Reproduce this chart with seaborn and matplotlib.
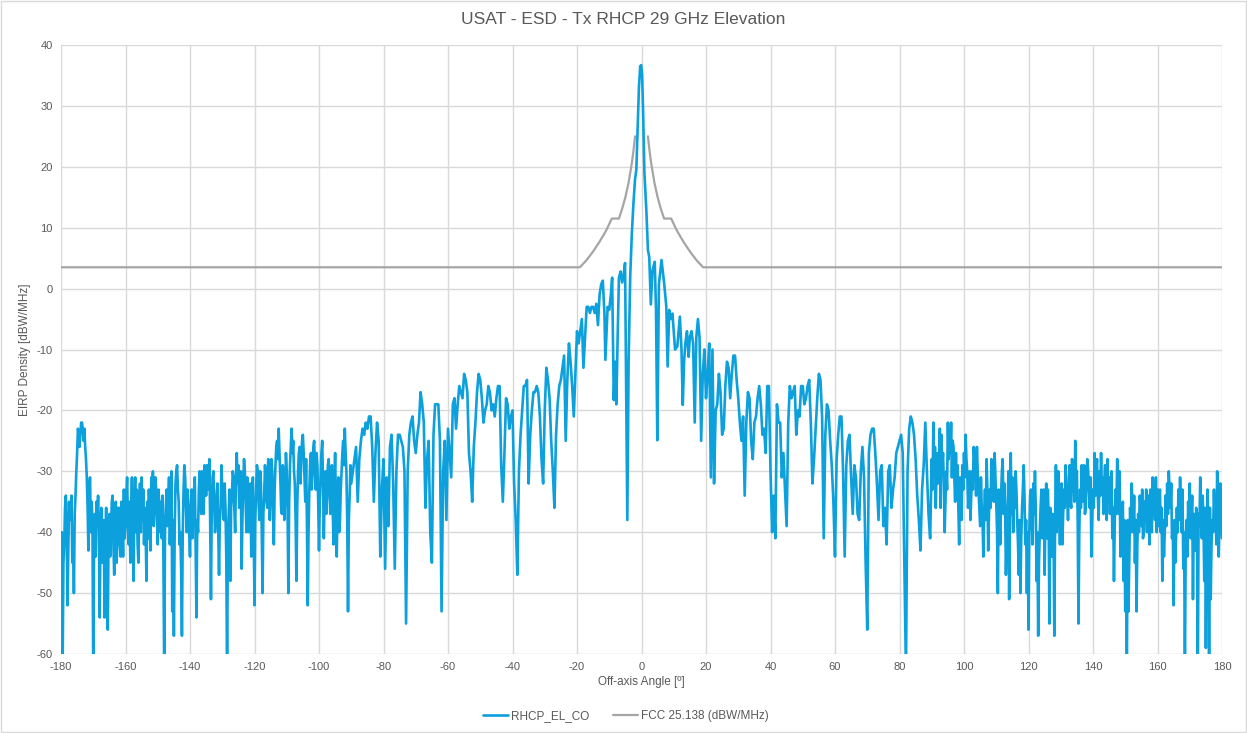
import numpy as np
import pandas as pd
import matplotlib
matplotlib.use("Agg")
import matplotlib.pyplot as plt
import seaborn as sns

# --- data ---
# left side lobes, -180 .. -15.5 deg, 0.5 deg step
left_start, left_stop = -180.0, -15.5
left_db = [
    -42, -63, -42, -34, -52, -35, -37, -45, -50, -34,   # -180
    -27, -24, -24, -22, -25, -26, -31, -43, -31, -35,   # -175
    -63, -37, -35, -34, -54, -36, -42, -54, -36, -56,   # -170
    -37, -40, -34, -47, -35, -41, -36, -44, -38, -33,   # -165
    -39, -31, -42, -45, -31, -48, -31, -33, -45, -32,   # -160
    -31, -33, -36, -48, -41, -38, -31, -30, -35, -33,   # -155
    -42, -36, -35, -34, -63, -36, -39, -31, -36, -53,   # -150
    -57, -32, -29, -35, -40, -57, -33, -31, -40, -36,   # -145
    -44, -33, -36, -31, -54, -40, -30, -37, -32, -29,   # -140
    -34, -30, -28, -51, -31, -35, -38, -32, -47, -36,   # -135
    -33, -38, -36, -63, -37, -48, -34, -31, -40, -27,   # -130
    -29, -34, -46, -32, -30, -40, -33, -36, -44, -31,   # -125
    -52, -33, -30, -38, -32, -50, -34, -31, -36, -29,   # -120
    -33, -30, -42, -29, -25, -23, -31, -37, -30, -34,   # -115
    -30, -50, -29, -23, -25, -32, -48, -30, -26, -28,   # -110
    -24, -31, -28, -52, -33, -27, -30, -25, -33, -29,   # -105
    -43, -31, -25, -41, -30, -34, -28, -37, -29, -42,   # -100
    -27, -44, -31, -38, -30, -25, -23, -30, -53, -34,   # -95
    -32, -30, -28, -26, -35, -28, -25, -23, -24, -22,   # -90
    -23, -21, -21, -26, -35, -27, -22, -25, -44, -33,   # -85
    -28, -46, -31, -39, -26, -24, -32, -46, -30, -24,   # -80
    -24, -25, -26, -30, -55, -30, -24, -22, -21, -25,   # -75
    -27, -24, -22, -17, -19, -22, -36, -28, -25, -40,   # -70
    -45, -24, -19, -19, -19, -25, -53, -30, -25, -38,   # -65
    -23, -27, -31, -19, -18, -23, -19, -16, -17, -18,   # -60
    -14, -15, -17, -27, -30, -35, -26, -22, -17, -14,   # -55
    -15, -18, -22, -20, -19, -16, -17, -20, -19, -21,   # -50
    -18, -16, -16, -29, -35, -27, -18, -19, -23, -21,   # -45
    -20, -32, -38, -47, -30, -24, -20, -16, -16, -15,   # -40
    -32, -24, -20, -17, -17, -16, -17, -21, -28, -32,   # -35
    -20, -13, -15, -18, -25, -30, -36, -24, -19, -16,   # -30
    -15, -13, -11, -25, -15, -9, -12, -16, -21, -14,    # -25
    -7, -9, -7, -5, -13, -8, -3, -3, -4, -3,            # -20
]
# extra samples in the dense far lobes, -179.75 .. -90.25 deg
left_mid_start, left_mid_stop = -179.75, -90.25
left_mid_db = [
    -40, -45, -36, -40, -44, -38, -34, -40, -37, -30,   # -179.75
    -23, -26, -22, -23, -23, -28, -36, -33, -40, -38,   # -174.75
    -42, -44, -38, -40, -40, -45, -38, -41, -43, -40,   # -169.75
    -44, -35, -42, -37, -45, -36, -42, -35, -44, -41,   # -164.75
    -34, -38, -35, -36, -40, -35, -40, -42, -36, -40,   # -159.75
    -38, -42, -40, -35, -33, -43, -36, -39, -31, -38,   # -154.75
    -33, -40, -41, -44, -40, -33, -35, -42, -30, -38,   # -149.75
    -40, -30, -33, -42, -46, -40, -29, -36, -33, -40,   # -144.75
    -36, -41, -33, -42, -38, -33, -34, -30, -37, -31,   # -139.75
    -29, -33, -38, -36, -30, -40, -34, -40, -38, -29,   # -134.75
    -35, -32, -44, -40, -33, -36, -30, -36, -31, -32,   # -129.75
    -36, -30, -38, -28, -35, -31, -40, -32, -34, -40,   # -124.75
    -38, -29, -35, -30, -40, -37, -29, -35, -28, -38,   # -119.75
    -28, -37, -33, -26, -28, -27, -36, -29, -38, -27,   # -114.75
    -36, -35, -26, -27, -30, -38, -36, -27, -32, -25,   # -109.75
    -27, -35, -38, -40, -29, -33, -26, -30, -27, -35,   # -104.75
    -35, -27, -32, -33, -37, -29, -33, -31, -36, -32,   # -99.75
    -36, -35, -40, -33, -27, -29, -27, -38, -38, -29,   # -94.75
]

# main lobe region, irregular sampling
center_angle = [-15, -14.5, -14, -13.5, -13, -12.5, -12, -11.5, -11.2, -10.5,
                -10, -9.5, -9.1, -8.6, -8.2, -7.8, -7.4, -7, -6.5, -6,
                -5.5, -5.1, -4.4, -4.0, -3.5, -3.0, -2.5, -2.0, -1.6, -1.2,
                -0.8, -0.4, -0.1, 0.2, 0.5, 0.9, 1.5, 2.0, 2.4, 2.9,
                3.4, 4.1, 4.5, 4.9, 5.4, 6.2, 7.0, 7.7, 8.1, 8.6,
                9.1, 9.6, 10.4, 11.1, 11.9, 12.4, 12.8, 13.2, 13.6, 14.1,
                14.6, 15.0]
center_db = [-3, -4, -2.5, -6, -1, 0.7, 1.3, -4, -11.7, -3,
             -3.5, -1, 1.8, -18.3, -12, -19, -8, 1.8, 2.8, 1,
             2.5, 4.2, -38, -12, 2, 9, 14, 18, 19.5, 26,
             33, 36.5, 36.7, 35, 29, 19, 12.9, 6.3, 5.2, -2.6,
             3, 4.4, -3.5, -24.9, 0.7, 4.7, 1, -3, -12.8, -3.5,
             -5, -4.1, -10, -9.5, -4.6, -10, -19.1, -12, -9, -7,
             -11.2, -8]

# right side lobes, 15.5 .. 180 deg, 0.5 deg step
right_start, right_stop = 15.5, 180.0
right_db = [
    -7, -9, -22, -8, -5, -8, -25, -14, -10, -18,         # 15.5
    -14, -9, -31, -10, -32, -20, -19, -14, -17, -24,     # 20.5
    -23, -16, -12, -13, -18, -14, -11, -11, -15, -18,    # 25.5
    -22, -25, -21, -34, -22, -17, -18, -25, -28, -22,    # 30.5
    -21, -18, -16, -19, -24, -23, -27, -16, -16, -30,    # 35.5
    -40, -34, -41, -19, -22, -22, -31, -27, -33, -39,    # 40.5
    -22, -16, -18, -17, -16, -24, -20, -21, -16, -16,    # 45.5
    -19, -18, -16, -15, -22, -32, -28, -23, -18, -14,    # 50.5
    -15, -21, -41, -24, -19, -20, -25, -29, -35, -44,    # 55.5
    -28, -24, -21, -21, -30, -44, -29, -25, -24, -31,    # 60.5
    -37, -29, -31, -37, -38, -30, -26, -31, -45, -56,    # 65.5
    -27, -24, -23, -23, -27, -32, -38, -30, -29, -39,    # 70.5
    -36, -42, -30, -29, -36, -33, -31, -27, -26, -25,    # 75.5
    -24, -27, -45, -63, -30, -23, -21, -22, -24, -28,    # 80.5
    -34, -38, -43, -33, -29, -22, -30, -37, -41, -28,    # 85.5
    -22, -26, -29, -32, -23, -24, -27, -40, -30, -22,    # 90.5
    -23, -22, -25, -31, -27, -29, -42, -35, -29, -27,    # 95.5
    -24, -30, -34, -38, -30, -26, -29, -26, -33, -39,    # 100.5
    -36, -44, -33, -28, -43, -33, -28, -31, -27, -35,    # 105.5
    -50, -38, -34, -28, -32, -47, -38, -51, -27, -31,    # 110.5
    -35, -30, -38, -47, -50, -36, -29, -42, -50, -56,    # 115.5
    -34, -38, -32, -30, -48, -57, -40, -33, -38, -47,    # 120.5
    -32, -33, -55, -41, -37, -57, -29, -33, -37, -36,    # 125.5
    -42, -33, -29, -33, -31, -35, -28, -31, -25, -30,    # 130.5
    -55, -33, -29, -31, -37, -32, -30, -36, -44, -33,    # 135.5
    -27, -30, -34, -30, -27, -31, -32, -36, -28, -31,    # 140.5
    -33, -41, -48, -33, -28, -37, -44, -42, -48, -53,    # 145.5
    -63, -53, -36, -32, -40, -45, -53, -37, -34, -39,    # 150.5
    -41, -35, -33, -35, -42, -37, -31, -34, -31, -33,    # 155.5
    -36, -40, -48, -44, -34, -32, -30, -36, -41, -52,    # 160.5
    -45, -36, -33, -31, -40, -46, -63, -38, -35, -32,    # 165.5
    -38, -51, -40, -36, -63, -39, -36, -34, -48, -59,    # 170.5
    -33, -63, -51, -38, -33, -36, -30, -44, -32, -41,    # 175.5
]
# extra samples in the dense far lobes, 90.25 .. 179.75 deg
right_mid_start, right_mid_stop = 90.25, 179.75
right_mid_db = [
    -33, -30, -36, -27, -30, -36, -29, -32, -35, -33,   # 90.25
    -28, -27, -31, -26, -35, -33, -36, -31, -38, -33,   # 95.25
    -31, -28, -36, -30, -34, -33, -28, -34, -30, -36,   # 100.25
    -31, -38, -37, -38, -33, -37, -36, -30, -35, -31,   # 105.25
    -40, -33, -42, -30, -37, -36, -41, -30, -38, -37,   # 110.25
    -40, -36, -33, -42, -38, -41, -33, -34, -38, -40,   # 115.25
    -40, -33, -42, -37, -36, -40, -45, -36, -41, -33,   # 120.25
    -37, -41, -38, -36, -44, -39, -38, -40, -30, -42,   # 125.25
    -32, -37, -36, -35, -38, -29, -36, -30, -35, -31,   # 130.25
    -38, -40, -36, -35, -29, -36, -28, -33, -31, -38,   # 135.25
    -36, -34, -28, -38, -34, -33, -37, -29, -38, -35,   # 140.25
    -37, -30, -36, -38, -37, -32, -30, -36, -35, -38,   # 145.25
    -42, -38, -44, -40, -36, -34, -38, -42, -40, -36,   # 150.25
    -33, -40, -38, -40, -34, -33, -40, -37, -38, -40,   # 155.25
    -39, -33, -36, -38, -40, -39, -37, -33, -32, -39,   # 160.25
    -38, -41, -40, -38, -36, -33, -40, -42, -44, -40,   # 165.25
    -41, -34, -37, -43, -42, -37, -31, -41, -38, -36,   # 170.25
    -40, -38, -36, -42, -40, -38, -42, -36, -37, -36,   # 175.25
]

# FCC 25.138 mask, two branches (no line between -2 and +2 deg)
mask_left_angle = [-180, -19.1, -17, -15, -13, -11, -9.2, -7, -6, -5, -4, -3, -2.5, -2]
mask_left_db = [3.5, 3.5, 4.7, 6.1, 7.7, 9.5, 11.5, 11.5, 13.1, 15.0, 17.4, 20.6, 22.6, 25.0]
mask_right_angle = [2, 2.5, 3, 4, 5, 6, 7, 9.2, 11, 13, 15, 17, 19.1, 180]
mask_right_db = [25.0, 22.6, 20.6, 17.4, 15.0, 13.1, 11.5, 11.5, 9.5, 7.7, 6.1, 4.7, 3.5, 3.5]

# --- tables ---
def grid(a, b, step):
    return np.arange(a, b + step / 10, step)

rhcp = pd.DataFrame({
    "angle": np.concatenate([grid(left_start, left_stop, 0.5),
                             grid(left_mid_start, left_mid_stop, 0.5),
                             center_angle,
                             grid(right_start, right_stop, 0.5),
                             grid(right_mid_start, right_mid_stop, 0.5)]),
    "eirp": np.concatenate([left_db, left_mid_db, center_db, right_db, right_mid_db]),
}).sort_values("angle")
mask_l = pd.DataFrame({"angle": mask_left_angle, "eirp": mask_left_db})
mask_r = pd.DataFrame({"angle": mask_right_angle, "eirp": mask_right_db})

# --- plot ---
sns.set_theme(style="whitegrid")
plt.rcParams["font.family"] = ["Liberation Sans", "DejaVu Sans"]
plt.rcParams["axes.unicode_minus"] = False

blue = "#0ca0dd"
grey = "#a5a5a5"
txt = "#595959"

fig = plt.figure(figsize=(12.47, 7.33), dpi=100)
ax = fig.add_axes([61 / 1247, 1 - 654 / 733, (1222 - 61) / 1247, (654 - 45) / 733])

sns.lineplot(data=mask_l, x="angle", y="eirp", color=grey, lw=1.6,
             estimator=None, sort=False, ax=ax, label="FCC 25.138 (dBW/MHz)")
sns.lineplot(data=mask_r, x="angle", y="eirp", color=grey, lw=1.6,
             estimator=None, sort=False, ax=ax)
sns.lineplot(data=rhcp, x="angle", y="eirp", color=blue, lw=1.9,
             estimator=None, sort=False, ax=ax, label="RHCP_EL_CO")

ax.set_xlim(-180, 180)
ax.set_ylim(-60, 40)
ax.set_xticks(np.arange(-180, 181, 20))
ax.set_yticks(np.arange(-60, 41, 10))
ax.grid(True, color="#d9d9d9", lw=1)
for s in ax.spines.values():
    s.set_visible(False)
ax.tick_params(axis="both", labelsize=8, colors=txt, length=0, pad=6)

# title is centred on the whole chart area, not on the plot box
fig.text(0.5, 1 - 19 / 733, "USAT - ESD - Tx RHCP 29 GHz Elevation",
         ha="center", va="center", fontsize=12.5, color=txt)
ax.set_xlabel("Off-axis Angle [º]", fontsize=8.5, color=txt, labelpad=3)
ax.set_ylabel("EIRP Density [dBW/MHz]", fontsize=8.5, color=txt, labelpad=4)

handles, labels = ax.get_legend_handles_labels()
ax.legend().remove()
order = [labels.index("RHCP_EL_CO"), labels.index("FCC 25.138 (dBW/MHz)")]
leg = fig.legend([handles[i] for i in order], [labels[i] for i in order],
                 loc="center", bbox_to_anchor=(0.502, 1 - 716 / 733), ncol=2,
                 frameon=False, fontsize=8.5, handlelength=2.1, handletextpad=0.3,
                 columnspacing=2.0)
for t in leg.get_texts():
    t.set_color(txt)

# thin chart-area border like the office chart
fig.patches.append(plt.Rectangle((0.001, 0.001), 0.998, 0.997, transform=fig.transFigure,
                                 fill=False, edgecolor="#d9d9d9", lw=1))

fig.savefig("out.png", dpi=100)
